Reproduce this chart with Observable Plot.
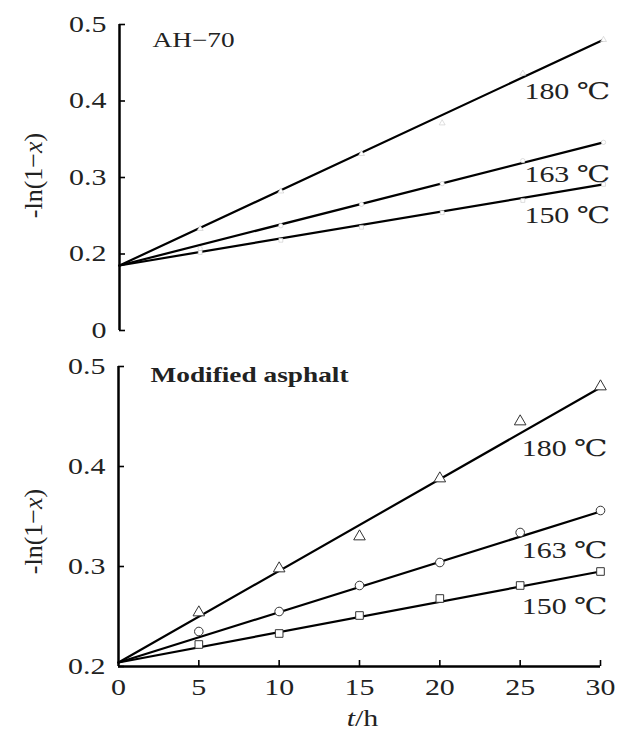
<!DOCTYPE html>
<html><head><meta charset="utf-8">
<script src="https://cdn.jsdelivr.net/npm/d3@7"></script>
<script src="https://cdn.jsdelivr.net/npm/@observablehq/plot@0.6"></script>
<style>
body{margin:0;background:#fff;}
#chart{width:618px;}
#chart svg{display:block;}
</style></head><body><div id="chart"></div>
<script>
// ---- data ----
const hours = [5, 10, 15, 20, 25, 30];
const fitHours = [0, 30];
const temps = ["180 ℃", "163 ℃", "150 ℃"];

// AH-70 measured points
const ah70_180 = [0.233, 0.282, 0.331, 0.371, 0.436, 0.480];
const ah70_163 = [0.207, 0.237, 0.265, 0.292, 0.322, 0.346];
const ah70_150 = [0.202, 0.218, 0.235, 0.254, 0.270, 0.291];
// AH-70 fitted lines (t = 0 and t = 30)
const ah70Fit180 = [0.185, 0.480];
const ah70Fit163 = [0.185, 0.346];
const ah70Fit150 = [0.185, 0.291];

// Modified asphalt measured points
const mod180 = [0.254, 0.298, 0.330, 0.388, 0.445, 0.480];
const mod163 = [0.235, 0.255, 0.281, 0.304, 0.334, 0.356];
const mod150 = [0.222, 0.233, 0.251, 0.268, 0.281, 0.295];
// Modified asphalt fitted lines
const modFit180 = [0.204, 0.479];
const modFit163 = [0.204, 0.355];
const modFit150 = [0.204, 0.295];

// ticks
const ah70Ticks = [0.1, 0.2, 0.3, 0.4, 0.5];        // broken axis: lowest tick is labelled 0
const ah70TickLabels = ["0", "0.2", "0.3", "0.4", "0.5"];
const modTicks = [0.2, 0.3, 0.4, 0.5];
const modTickLabels = ["0.2", "0.3", "0.4", "0.5"];
const xTicks = [0, 5, 10, 15, 20, 25, 30];
const yLabel = "-ln(1−x)";
const xLabel = "t/h";
const panelTitles = ["AH−70", "Modified asphalt"];

// ---- drawing ----
const FONT = "'Liberation Serif','DejaVu Serif','Noto Sans CJK SC',serif";
const symbols = ["triangle", "circle", "square"];

function buildRows(series, xs) {
  const rows = [];
  series.forEach((vals, i) => xs.forEach((t, j) => rows.push({t, v: vals[j], s: temps[i]})));
  return rows;
}

function panel(o) {
  const fitRows = buildRows(o.fits, fitHours);
  const [y0, y1] = o.yDomain;
  const frameW = 618 - o.marginLeft - o.marginRight;
  const frameH = o.height - o.marginTop - o.marginBottom;
  const tickX = 6 * 30 / frameW;              // 6px expressed in hours
  const tickY = 6 * (y1 - y0) / frameH;       // 6px expressed in y units
  const marks = [];
  // axis lines
  marks.push(Plot.ruleX([0], {y1: y0, y2: y1, stroke: "black", strokeWidth: 2.5}));
  if (o.showX) marks.push(Plot.ruleY([y0], {x1: 0, x2: 30, stroke: "black", strokeWidth: 2.5}));
  // inward tick marks
  marks.push(Plot.ruleY(o.ticks, {y: (d) => d, x1: 0, x2: tickX, stroke: "black", strokeWidth: 1.6}));
  if (o.showX) marks.push(Plot.ruleX(xTicks.slice(1), {x: (d) => d, y1: y0, y2: y0 + tickY, stroke: "black", strokeWidth: 1.6}));
  // tick labels
  marks.push(Plot.axisY({
    ticks: o.ticks, tickFormat: (d) => o.tickLabels[o.ticks.indexOf(d)],
    tickSize: 0, tickPadding: 13, label: null, fontSize: 23, fill: "#222"
  }));
  if (o.showX) marks.push(Plot.axisX({
    ticks: xTicks, tickSize: 0, tickPadding: 12, label: null, fontSize: 23, fill: "#222"
  }));
  // fitted lines
  marks.push(Plot.line(fitRows, {x: "t", y: "v", z: "s", stroke: "black", strokeWidth: 2.2}));
  // measured points
  o.points.forEach((vals, i) => {
    marks.push(Plot.dot(hours.map((t, j) => ({t, v: vals[j]})), {
      x: "t", y: "v", symbol: symbols[i], r: o.dotR, fill: "white",
      stroke: o.dotStroke, strokeWidth: o.dotStrokeWidth
    }));
  });
  // temperature labels
  marks.push(Plot.text(temps.map((s, i) => ({s, v: o.labelYs[i]})), {
    x: () => 25.1, y: "v", text: "s", textAnchor: "start", lineAnchor: "middle",
    fontSize: 23, fill: "#222"
  }));
  // panel title
  marks.push(Plot.text([o.title], {
    frameAnchor: "top-left", dx: o.titleDx, dy: o.titleDy, textAnchor: "start", lineAnchor: "middle",
    fontSize: 21, fontWeight: o.titleWeight, fill: "#222", letterSpacing: o.titleSpacing
  }));
  // y label
  marks.push(Plot.text([yLabel], {
    frameAnchor: "left", dx: 33 - o.marginLeft, dy: o.yLabelDy, rotate: -90,
    textAnchor: "middle", lineAnchor: "middle", fontSize: 26, fill: "#222"
  }));
  // x label
  if (o.showX) marks.push(Plot.text([xLabel], {
    frameAnchor: "bottom", dy: 52, dx: 3, textAnchor: "middle", lineAnchor: "middle", fontSize: 23, fill: "#222"
  }));
  return Plot.plot({
    width: 618, height: o.height,
    marginLeft: o.marginLeft, marginRight: o.marginRight, marginTop: o.marginTop, marginBottom: o.marginBottom,
    x: {domain: [0, 30], axis: null},
    y: {domain: o.yDomain, axis: null},
    style: {fontFamily: FONT, background: "white", color: "black", overflow: "visible"},
    marks
  });
}

const topChart = panel({
  height: 340, marginLeft: 119, marginRight: 15, marginTop: 24, marginBottom: 10,
  yDomain: [0.1, 0.5], ticks: ah70Ticks, tickLabels: ah70TickLabels, showX: false,
  fits: [ah70Fit180, ah70Fit163, ah70Fit150],
  points: [ah70_180, ah70_163, ah70_150],
  dotR: 2.2, dotStroke: "#c8c8c8", dotStrokeWidth: 0.6,
  labelYs: [0.412, 0.304, 0.250],
  title: panelTitles[0], titleDx: 33, titleDy: 16, titleWeight: "normal", titleSpacing: 3,
  yLabelDy: -2
});
const bottomChart = panel({
  height: 397, marginLeft: 118, marginRight: 18, marginTop: 26, marginBottom: 71,
  yDomain: [0.2, 0.5], ticks: modTicks, tickLabels: modTickLabels, showX: true,
  fits: [modFit180, modFit163, modFit150],
  points: [mod180, mod163, mod150],
  dotR: 4.3, dotStroke: "#333", dotStrokeWidth: 1,
  labelYs: [0.418, 0.316, 0.260],
  title: panelTitles[1], titleDx: 32, titleDy: 9, titleWeight: "bold", titleSpacing: 1,
  yLabelDy: 15
});

const host = document.getElementById("chart");
host.append(topChart, bottomChart);

function richText(svg) {
  svg.querySelectorAll("text").forEach((t) => {
    const s = t.textContent;
    let parts = null;
    if (s === yLabel) parts = [["-ln(1−", false], ["x", true], [")", false]];
    else if (s === xLabel) parts = [["t", true], ["/h", false]];
    if (!parts) return;
    while (t.firstChild) t.removeChild(t.firstChild);
    parts.forEach(([txt, it]) => {
      const ts = document.createElementNS("http://www.w3.org/2000/svg", "tspan");
      ts.textContent = txt;
      if (it) ts.setAttribute("font-style", "italic");
      t.appendChild(ts);
    });
  });
}
function widen(svg, k) {
  svg.querySelectorAll("text").forEach((t) => {
    const tr = (t.getAttribute("transform") || "") + (t.parentNode.getAttribute("transform") || "");
    if (tr.includes("rotate")) return;
    const len = t.getComputedTextLength();
    if (len > 0) {
      t.setAttribute("textLength", (len * k).toFixed(1));
      t.setAttribute("lengthAdjust", "spacingAndGlyphs");
    }
  });
}
[topChart, bottomChart].forEach((svg) => { richText(svg); widen(svg, 1.3); });
</script>
</body></html>
